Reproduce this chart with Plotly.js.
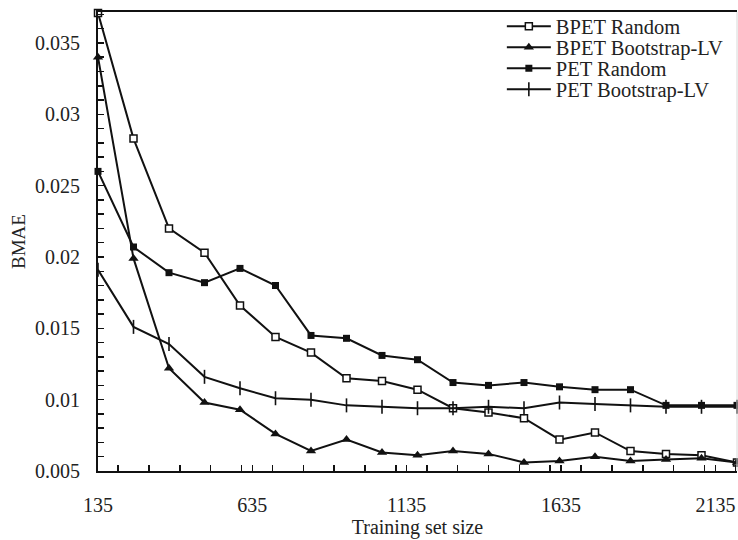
<!DOCTYPE html>
<html>
<head>
<meta charset="utf-8">
<script src="https://cdn.plot.ly/plotly-3.0.1.min.js"></script>
<style>
  html, body { margin: 0; padding: 0; background: #fff; }
  #chart { width: 738px; height: 540px; }
</style>
</head>
<body>
<div id="chart"></div>
<script>
// Training set sizes
const trainingSize = [135, 250, 365, 480, 595, 710, 825, 940, 1055, 1170,
                      1285, 1400, 1515, 1630, 1745, 1860, 1975, 2090, 2205];

// BMAE per method
const bpetRandom = [0.0371, 0.0283, 0.0220, 0.0203, 0.0166, 0.0144, 0.0133, 0.0115, 0.0113, 0.0107,
                    0.0094, 0.0091, 0.0087, 0.0072, 0.0077, 0.0064, 0.0062, 0.0061, 0.0056];
const bpetBootstrapLV = [0.0340, 0.0199, 0.0122, 0.0098, 0.0093, 0.0076, 0.0064, 0.0072, 0.0063, 0.0061,
                         0.0064, 0.0062, 0.0056, 0.0057, 0.0060, 0.0057, 0.0058, 0.0059, 0.0056];
const petRandom = [0.0260, 0.0207, 0.0189, 0.0182, 0.0192, 0.0180, 0.0145, 0.0143, 0.0131, 0.0128,
                   0.0112, 0.0110, 0.0112, 0.0109, 0.0107, 0.0107, 0.0096, 0.0096, 0.0096];
const petBootstrapLV = [0.0191, 0.0151, 0.0139, 0.0116, 0.0108, 0.0101, 0.0100, 0.0096, 0.0095, 0.0094,
                        0.0094, 0.0095, 0.0094, 0.0098, 0.0097, 0.0096, 0.0095, 0.0095, 0.0095];

const seriesNames = ['BPET Random', 'BPET Bootstrap-LV', 'PET Random', 'PET Bootstrap-LV'];

const FONT = '"Liberation Serif", "Times New Roman", "DejaVu Serif", serif';
const INK = '#111';

function series(name, y, marker) {
  return {
    type: 'scatter',
    mode: 'lines+markers',
    name: name,
    x: trainingSize,
    y: y,
    cliponaxis: false,
    line: { color: INK, width: 2 },
    marker: marker
  };
}

const traces = [
  series(seriesNames[0], bpetRandom,
         { symbol: 'square', size: 7, color: '#fff', line: { color: INK, width: 1.5 } }),
  series(seriesNames[1], bpetBootstrapLV,
         { symbol: 'triangle-up', size: 9, color: INK, line: { color: INK, width: 0 } }),
  series(seriesNames[2], petRandom,
         { symbol: 'square', size: 7, color: INK, line: { color: INK, width: 0 } }),
  series(seriesNames[3], petBootstrapLV,
         { symbol: 'line-ns-open', size: 10, color: INK, line: { color: INK, width: 1.6 } })
];

const layout = {
  width: 738,
  height: 540,
  margin: { l: 98, r: 1, t: 12, b: 69 },
  paper_bgcolor: '#fff',
  plot_bgcolor: '#fff',
  font: { family: FONT, size: 20, color: '#222' },
  showlegend: true,
  legend: {
    x: 0.632, xanchor: 'left',
    y: 1.012, yanchor: 'top',
    bgcolor: 'rgba(0,0,0,0)',
    itemwidth: 44,
    font: { family: FONT, size: 20.5, color: '#222' }
  },
  xaxis: {
    range: [135, 2205],
    tick0: 135,
    dtick: 500,
    ticks: 'inside',
    ticklen: 6,
    tickwidth: 1.5,
    tickcolor: INK,
    minor: { dtick: 100, ticks: 'inside', ticklen: 6, tickwidth: 1.5, tickcolor: INK },
    showgrid: false,
    zeroline: false,
    showline: true,
    linecolor: INK,
    linewidth: 2,
    mirror: true,
    ticklabelstandoff: 15,
    tickfont: { family: FONT, size: 20, color: '#222' },
    title: { text: 'Training set size', standoff: 3, font: { family: FONT, size: 20, color: '#222' } }
  },
  yaxis: {
    range: [0.005, 0.03717],
    tick0: 0.005,
    dtick: 0.005,
    ticks: 'inside',
    ticklen: 6,
    tickwidth: 1.5,
    tickcolor: INK,
    minor: { dtick: 0.001, ticks: 'inside', ticklen: 6, tickwidth: 1.5, tickcolor: INK },
    showgrid: false,
    zeroline: false,
    showline: true,
    linecolor: INK,
    linewidth: 2,
    ticklabelstandoff: 12,
    tickfont: { family: FONT, size: 20, color: '#222' },
    title: { text: 'BMAE', standoff: 4, font: { family: FONT, size: 19, color: '#222' } }
  },
  shapes: [
    // faint right edge of the frame
    { type: 'line', xref: 'paper', yref: 'paper', x0: 1, x1: 1, y0: 0, y1: 1,
      line: { color: '#d8d8d8', width: 1 } }
  ]
};

Plotly.newPlot('chart', traces, layout, { displayModeBar: false, staticPlot: true }).then(function (gd) {
  // Pack the legend rows tightly
  const rows = gd.querySelectorAll('.legend .traces');
  const step = 21;
  let base = null;
  rows.forEach(function (row, i) {
    const m = /translate\(([-\d.]+)[ ,]+([-\d.]+)\)/.exec(row.getAttribute('transform') || '');
    if (!m) return;
    if (base === null) base = parseFloat(m[2]);
    row.setAttribute('transform', 'translate(' + m[1] + ',' + (base + i * step) + ')');
  });
});
</script>
</body>
</html>
